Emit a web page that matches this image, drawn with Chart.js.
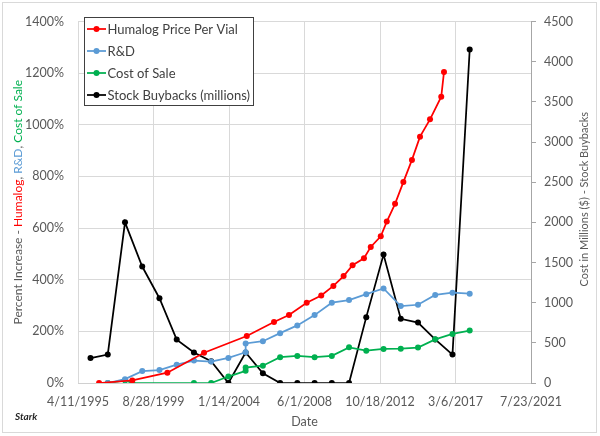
<!DOCTYPE html>
<html>
<head>
<meta charset="utf-8">
<script src="https://cdn.jsdelivr.net/npm/chart.js@4.4.1/dist/chart.umd.min.js"></script>
<style>
  html, body { margin: 0; padding: 0; background: #fff; }
  #wrap { position: relative; width: 600px; height: 436px; }
</style>
</head>
<body>
<div id="wrap"><canvas id="chart" width="600" height="436"></canvas></div>
<script>
// x axis: first/last tick and the gap between ticks (days)
const xTickStart = '1995-04-11';
const xTickEnd = '2021-07-23';
const xTickStepDays = 1600;

// left axis (%), right axis (millions $)
const leftTicks = { min: 0, max: 1400, step: 200 };
const rightTicks = { min: 0, max: 4500, step: 500 };

// Humalog price per vial, % increase
const priceDates = ['1996-07-01', '1998-06-05', '2000-06-17', '2002-08-03', '2005-01-25', '2006-08-25',
    '2007-07-08', '2008-07-18', '2009-05-22', '2010-02-03', '2010-09-08', '2011-03-17', '2011-11-13',
    '2012-04-05', '2012-11-03', '2013-03-11', '2013-09-02', '2014-02-25', '2014-08-26', '2015-02-13',
    '2015-09-13', '2016-05-08', '2016-07-05'];
const priceValues = [0, 10, 40, 117, 182, 236, 263, 311, 339, 376, 414, 456, 483, 527, 568, 625, 694,
    778, 864, 954, 1021, 1109, 1204];

// R&D, % increase
const rdDates = ['1997-01-01', '1998-01-01', '1999-01-01', '2000-01-01', '2001-01-01', '2002-01-01',
    '2003-01-01', '2004-01-01', '2004-12-31', '2005-01-01', '2006-01-01', '2007-01-01', '2008-01-01',
    '2009-01-01', '2010-01-01', '2011-01-01', '2012-01-01', '2013-01-01', '2014-01-01', '2015-01-01',
    '2016-01-01', '2017-01-01', '2018-01-01'];
const rdValues = [0, 15, 46, 50, 71, 87, 83, 97, 119, 153, 162, 193, 223, 263, 311, 321, 344, 366, 298,
    303, 341, 350, 346];

// Cost of sale, % increase
const costDates = ['1997-01-01', '1998-01-01', '1998-06-05', '2002-01-01', '2003-01-01', '2004-01-01',
    '2004-12-31', '2005-01-01', '2006-01-01', '2007-01-01', '2008-01-01', '2009-01-01', '2010-01-01',
    '2011-01-01', '2012-01-01', '2013-01-01', '2014-01-01', '2015-01-01', '2016-01-01', '2017-01-01',
    '2018-01-01'];
const costValues = [0, 10, 0, 0, 0, 25, 47, 60, 67, 100, 105, 100, 105, 138, 125, 132, 133, 137, 169,
    190, 203];

// Stock buybacks, millions $
const buybackDates = ['1996-01-01', '1997-01-01', '1998-01-01', '1999-01-01', '2000-01-01', '2001-01-01',
    '2002-01-01', '2003-01-01', '2004-01-01', '2005-01-01', '2006-01-01', '2007-01-01', '2008-01-01',
    '2009-01-01', '2010-01-01', '2011-01-01', '2012-01-01', '2013-01-01', '2014-01-01', '2015-01-01',
    '2016-01-01', '2017-01-01', '2018-01-01'];
const buybackValues = [310, 355, 2000, 1450, 1055, 540, 380, 272, 0, 380, 120, 0, 0, 0, 0, 0, 820, 1600,
    800, 752, 542, 354, 4150];

const FONT = 'Lato, "Noto Sans", sans-serif';
const AXIS_GREY = '#595959';

// Excel-style day serial, so ticks land on the same dates as the original
function toSerial(str) {
    const [y, m, d] = str.split('-').map(Number);
    return Math.round((Date.UTC(y, m - 1, d) - Date.UTC(1899, 11, 30)) / 86400000);
}

function formatSerial(v) {
    const dt = new Date(Date.UTC(1899, 11, 30) + v * 86400000);
    return `${dt.getUTCMonth() + 1}/${dt.getUTCDate()}/${dt.getUTCFullYear()}`;
}

function toPoints(dates, values) {
    return dates.map((d, i) => ({ x: toSerial(d), y: values[i] }));
}

const xMin = toSerial(xTickStart);
const xMax = toSerial(xTickEnd);
const xTicks = [];
for (let v = xMin; v <= xMax; v += xTickStepDays) xTicks.push(v);

function series(label, color, points, axis) {
    return {
        label,
        data: points,
        yAxisID: axis,
        borderColor: color,
        backgroundColor: color,
        pointBackgroundColor: color,
        pointBorderColor: color
    };
}

const decorations = {
    id: 'decorations',
    afterDraw(chart) {
        const ctx = chart.ctx;
        const area = chart.chartArea;
        const midY = (area.top + area.bottom) / 2;
        ctx.save();

        // frame round the whole chart
        ctx.strokeStyle = '#d9d9d9';
        ctx.lineWidth = 1;
        ctx.strokeRect(2.5, 2.5, 594, 430);

        // left title, one colour per series name
        const parts = [
            ['Percent Increase - ', AXIS_GREY],
            ['Humalog', '#ff0000'],
            [', ', AXIS_GREY],
            ['R&D', '#5b9bd5'],
            [', ', AXIS_GREY],
            ['Cost of Sale', '#00b050']
        ];
        ctx.font = `12px ${FONT}`;
        ctx.textBaseline = 'middle';
        ctx.textAlign = 'left';
        const total = parts.reduce((s, p) => s + ctx.measureText(p[0]).width, 0);
        ctx.save();
        ctx.translate(18, midY);
        ctx.rotate(-Math.PI / 2);
        let tx = -total / 2;
        parts.forEach(([text, color]) => {
            ctx.fillStyle = color;
            ctx.fillText(text, tx, 0);
            tx += ctx.measureText(text).width;
        });
        ctx.restore();

        // right title
        ctx.save();
        ctx.font = `11px ${FONT}`;
        ctx.translate(584, midY - 3);
        ctx.rotate(-Math.PI / 2);
        ctx.textAlign = 'center';
        ctx.fillStyle = AXIS_GREY;
        ctx.fillText('Cost in Millions ($) - Stock Buybacks', 0, 0);
        ctx.restore();

        // bottom title
        ctx.font = `12.5px ${FONT}`;
        ctx.textAlign = 'center';
        ctx.fillStyle = AXIS_GREY;
        ctx.fillText('Date', (area.left + area.right) / 2, 422);

        // signature
        ctx.textAlign = 'left';
        ctx.fillStyle = '#262626';
        ctx.font = `italic bold 10px ${FONT}`;
        ctx.fillText('Stark', 15, 417);

        // legend box
        ctx.fillStyle = '#ffffff';
        ctx.fillRect(84.5, 17.5, 169, 88);
        ctx.strokeStyle = '#404040';
        ctx.strokeRect(84.5, 17.5, 169, 88);
        ctx.font = `13px ${FONT}`;
        chart.data.datasets.forEach((ds, i) => {
            const y = 29 + i * 22;
            ctx.strokeStyle = ds.borderColor;
            ctx.lineWidth = 1.75;
            ctx.beginPath();
            ctx.moveTo(87, y);
            ctx.lineTo(106, y);
            ctx.stroke();
            ctx.fillStyle = ds.borderColor;
            ctx.beginPath();
            ctx.arc(96.5, y, 3, 0, Math.PI * 2);
            ctx.fill();
            ctx.fillStyle = '#404040';
            ctx.fillText(ds.label, 107.5, y + 0.5);
        });

        ctx.restore();
    }
};

new Chart(document.getElementById('chart'), {
    type: 'line',
    data: {
        datasets: [
            series('Humalog Price Per Vial', '#ff0000', toPoints(priceDates, priceValues), 'y'),
            series('R&D', '#5b9bd5', toPoints(rdDates, rdValues), 'y'),
            series('Cost of Sale', '#00b050', toPoints(costDates, costValues), 'y'),
            series('Stock Buybacks (millions)', '#000000', toPoints(buybackDates, buybackValues), 'y2')
        ]
    },
    options: {
        responsive: false,
        animation: false,
        layout: { padding: { top: 11, left: 0, right: 0, bottom: 0 } },
        elements: {
            line: { tension: 0, borderWidth: 1.75 },
            point: { radius: 3, borderWidth: 0, hoverRadius: 3 }
        },
        plugins: {
            legend: { display: false },
            tooltip: { enabled: false }
        },
        scales: {
            x: {
                type: 'linear',
                min: xMin,
                max: xMax,
                afterBuildTicks: (s) => { s.ticks = xTicks.map(v => ({ value: v })); },
                afterFit: (s) => { s.height = 53; },
                grid: { color: '#d9d9d9', drawTicks: false },
                border: { color: '#d0d0d0' },
                ticks: {
                    padding: 11,
                    maxRotation: 0,
                    autoSkip: false,
                    color: AXIS_GREY,
                    font: { family: FONT, size: 12.5 },
                    callback: (v) => formatSerial(v)
                }
            },
            y: {
                position: 'left',
                min: leftTicks.min,
                max: leftTicks.max,
                afterFit: (s) => { s.width = 78; },
                grid: { color: '#d9d9d9', drawTicks: false },
                border: { display: false },
                ticks: {
                    stepSize: leftTicks.step,
                    padding: 14,
                    color: AXIS_GREY,
                    font: { family: FONT, size: 12.5 },
                    callback: (v) => v + '%'
                }
            },
            y2: {
                position: 'right',
                min: rightTicks.min,
                max: rightTicks.max,
                afterFit: (s) => { s.width = 69; },
                grid: { drawOnChartArea: false, drawTicks: true, tickLength: 5, color: '#a6a6a6' },
                border: { color: '#a6a6a6' },
                ticks: {
                    stepSize: rightTicks.step,
                    padding: 8,
                    color: AXIS_GREY,
                    font: { family: FONT, size: 12.5 },
                    callback: (v) => String(v)
                }
            }
        }
    },
    plugins: [decorations]
});
</script>
</body>
</html>
